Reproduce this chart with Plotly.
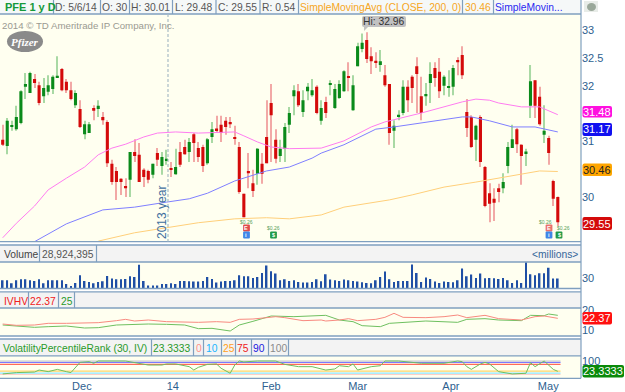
import plotly.graph_objects as go

W, H = 625, 392

opens = [31.03,30.92,31.26,31.22,31.33,31.98,31.87,32.12,32.01,31.81,31.89,31.94,32.15,32.30,32.07,31.92,31.65,31.58,31.13,31.15,
31.60,31.58,31.44,31.35,30.60,30.47,30.33,30.20,30.31,30.81,30.76,30.49,30.47,30.40,30.79,30.56,30.66,30.52,30.41,30.81,
30.90,30.81,31.13,30.88,30.90,30.61,31.08,31.23,31.30,31.37,31.35,31.07,30.90,30.06,30.47,30.25,30.42,30.60,31.08,31.69,
31.03,30.74,30.87,31.30,31.81,31.90,31.53,31.90,31.83,31.98,31.37,31.71,32.02,31.60,31.78,31.90,32.16,31.56,32.35,32.66,
32.82,32.53,32.44,32.37,32.19,32.03,31.19,31.45,31.51,31.98,32.16,32.35,31.81,31.81,32.05,32.32,32.25,32.00,31.96,31.98,
32.46,32.55,31.53,31.44,31.03,31.44,30.54,30.07,29.97,30.16,30.16,30.56,30.88,31.22,30.94,30.79,31.64,32.10,31.80,31.12,
31.06,30.29,30.00]
highs = [31.30,31.42,31.37,31.64,31.92,32.23,32.25,32.21,32.07,32.14,32.19,32.19,32.53,32.32,32.12,32.07,31.92,31.74,31.37,31.35,
31.65,31.74,31.53,31.38,30.67,30.54,30.34,30.34,30.81,31.04,30.97,30.52,30.49,30.60,30.88,30.81,30.85,30.63,30.87,30.99,
31.03,31.06,31.15,30.99,30.94,31.06,31.35,31.46,31.46,31.44,31.44,31.28,30.99,30.06,30.79,30.49,30.88,30.79,31.74,32.03,
31.22,31.03,31.33,31.62,32.01,32.03,31.92,32.05,32.12,32.01,31.74,31.80,32.10,32.03,32.10,32.28,32.42,32.19,32.77,32.94,
32.96,32.69,32.60,32.64,32.37,32.03,31.38,31.56,32.10,32.10,32.19,32.51,32.16,32.05,32.42,32.42,32.50,32.19,32.28,32.37,
32.51,32.71,31.76,31.47,31.30,31.47,30.56,30.25,30.16,30.24,30.43,30.99,31.30,31.24,30.95,30.87,32.37,32.10,31.98,31.65,
31.10,30.31,30.01]
lows = [30.92,30.77,31.19,31.19,31.31,31.76,31.87,31.96,31.65,31.69,31.83,31.85,32.14,31.90,31.87,31.74,31.60,31.24,31.04,31.15,
31.38,31.44,31.30,30.54,30.22,29.95,30.04,30.00,30.00,30.63,30.27,30.18,30.25,30.34,30.56,30.40,30.58,30.36,30.40,30.54,
30.76,30.63,30.63,30.63,30.45,30.58,30.97,31.15,30.99,31.12,31.24,30.94,30.06,29.64,30.16,30.00,30.22,30.24,30.61,30.63,
30.61,30.63,30.63,31.15,31.47,31.62,31.44,31.74,31.80,31.49,31.30,31.42,31.83,31.58,31.76,31.89,31.90,31.55,32.35,32.60,
32.41,32.21,32.32,32.25,31.98,30.94,30.88,31.38,31.47,31.53,31.69,31.51,31.38,31.64,31.69,31.98,31.78,31.83,31.80,31.83,
32.19,32.12,31.08,30.88,30.65,30.54,29.82,29.55,29.57,29.91,30.07,30.43,30.88,30.79,30.22,30.56,31.42,31.42,31.28,30.97,
30.58,29.84,29.48]
closes = [30.94,31.37,31.28,31.44,31.90,32.03,32.23,32.05,31.69,31.96,32.01,32.16,32.17,31.92,31.92,31.76,31.87,31.26,31.31,31.31,
31.55,31.64,31.38,30.61,30.27,30.27,30.27,30.16,30.81,30.74,30.27,30.36,30.31,30.60,30.67,30.72,30.68,30.49,30.54,30.58,
30.77,30.99,30.97,30.72,30.56,31.04,31.22,31.20,31.15,31.26,31.31,31.05,30.09,29.64,30.43,30.11,30.87,30.42,30.61,31.47,
30.69,30.87,31.26,31.51,31.92,31.65,31.74,31.98,31.92,31.51,31.60,31.51,32.04,31.94,32.03,32.26,32.14,32.01,32.71,32.77,
32.48,32.44,32.42,32.44,32.01,31.15,31.28,31.47,31.98,31.74,31.96,32.21,31.51,31.85,32.21,32.14,31.90,32.16,31.98,32.32,
32.42,32.19,31.24,30.90,31.28,30.63,29.84,29.88,29.90,30.09,30.27,30.90,31.04,30.95,30.74,30.81,32.08,31.64,31.31,31.19,
30.79,29.97,29.55]
volumes = [24,24,15,24,27,27,24,22,27,15,24,24,24,24,13,7,16,39,22,19,
15,19,21,37,29,27,27,28,36,34,70,22,8,8,8,13,13,15,13,22,
22,21,20,20,22,34,28,17,20,22,22,24,39,36,36,31,34,46,68,51,
44,24,27,22,24,19,17,17,19,27,21,42,26,24,22,26,24,22,20,18,
16,15,24,34,50,27,19,22,22,22,71,46,19,32,28,20,16,20,19,18,
24,59,36,41,31,44,30,31,30,28,31,24,16,24,16,78,42,39,45,45,
61,28.92,28.92]
days = list(range(len(opens)))

sma50_days = [0,3,7,10,14,18,21,24,27,31,34,38,43,51,53,56,59,63,70,75,81,84,92,97,101,104,107,109,114,118,122]
sma50_vals = [29.27,29.53,29.84,30.13,30.34,30.54,30.76,30.88,30.95,31.08,31.15,31.17,31.15,31.17,31.10,30.99,30.90,30.87,30.88,31.01,31.26,31.35,31.51,31.62,31.71,31.76,31.74,31.69,31.62,31.62,31.48]
sma100_days = [7,14,22,29,36,41,45,51,58,63,68,70,75,82,86,90,97,101,103,107,112,117,122]
sma100_vals = [29.20,29.52,29.77,29.82,29.91,29.97,30.07,30.29,30.47,30.54,30.70,30.79,30.94,31.22,31.26,31.31,31.40,31.44,31.44,31.37,31.26,31.26,31.17]
sma200_days = [21,29,36,43,51,58,63,68,70,75,85,90,97,104,112,118,122]
sma200_vals = [29.21,29.36,29.45,29.54,29.61,29.63,29.61,29.66,29.68,29.82,29.95,30.04,30.18,30.27,30.38,30.47,30.46]

iv_days = [0,3,7,10,14,18,21,25,27,29,32,36,40,43,47,50,52,55,58,60,62,66,70,71,74,76,78,82,84,86,88,93,97,100,102,106,109,114,117,119,122]
iv_vals = [13.0,12.33,12.5,13.33,13.33,13.33,13.67,14.67,15.33,14.5,15,14.17,14,13.83,14.17,13.83,15.33,15.5,16.17,16.67,16.17,14.67,15,14.5,15,15.67,14.67,15.33,16.33,18.33,16.33,16.17,16.67,17.5,16.17,17.33,15.67,15,16.67,17,15.83]
hv_days = [0,3,7,10,14,18,21,25,29,32,36,40,43,46,50,52,55,59,64,70,71,74,77,79,83,85,90,93,100,102,106,109,114,116,119,120,122]
hv_vals = [12.5,12,11.33,11.67,12,11,11.17,12.5,13,13,12.83,12.5,10.67,10.83,9.5,12.5,14.33,17,16.67,17.33,17.33,15,14.17,12.17,11.67,13.33,13.83,14.5,13.83,15.33,15.67,15,14.67,17.33,17.17,18,17.33]

vpr_days = [0,3,7,8,10,12,14,15,17,19,20,21,27,30,32,35,36,38,41,42,43,45,47,48,50,51,52,53,56,60,62,65,68,71,73,74,76,77,78,81,83,84,87,92,97,100,101,102,103,105,106,107,109,112,115,116,117,119,121,122]
vpr_vals = [4,14,18,33,21,38,21,14,90,95,83,100,100,83,70,70,78,78,58,33,53,75,78,46,9,70,100,93,100,100,75,58,58,33,41,65,58,78,33,58,65,100,100,83,83,100,95,58,38,78,90,78,21,4,9,88,58,100,38,23.3333]
vpr_levels = [0, 10, 25, 75, 90, 100]
vpr_level_colors = ["#ffd0c8", "#8fe8ff", "#ffd76a", "#ff6a5a", "#7a7aff", "#c8c8c8"]

x_tick_vals = [17.4, 37.4, 59, 78, 98.5, 119.9]
x_tick_text = ["Dec", "14", "Feb", "Mar", "Apr", "May"]
price_ticks = [30, 30.5, 31, 31.5, 32, 32.5, 33]
price_tick_text = ["30", "", "31", "", "32", "32.5", "33"]

FONT = "Liberation Sans"
BLUE = "#2e5f90"
BORDER = "#7f9fbf"
CREAM = "#fffff0"
STRIP = "#f3f3f3"
RIGHT = 581

def fx(x):
    return x / W

def fy(y):
    return 1 - y / H

is_up = [c >= o for o, c in zip(opens, closes)]
wick_colors = ["#a9d9a4" if u else "#f2a9a6" for u in is_up]
body_colors = ["#0a8a1a" if u else "#d40a0a" for u in is_up]

fig = go.Figure()
fig.add_trace(go.Bar(x=days, y=[h - l for h, l in zip(highs, lows)], base=lows, width=0.24,
                     marker=dict(color=wick_colors, line=dict(width=0)), xaxis="x", yaxis="y"))
fig.add_trace(go.Bar(x=days, y=[max(abs(c - o), 0.03) for o, c in zip(opens, closes)],
                     base=[min(o, c) for o, c in zip(opens, closes)], width=0.68,
                     marker=dict(color=body_colors, line=dict(width=0)), xaxis="x", yaxis="y"))
for xs, ys, col in [(sma200_days, sma200_vals, "#ffcf7a"), (sma100_days, sma100_vals, "#7f7fff"), (sma50_days, sma50_vals, "#ff7cf0")]:
    fig.add_trace(go.Scatter(x=xs, y=ys, mode="lines", line=dict(color=col, width=1), xaxis="x", yaxis="y"))

fig.add_trace(go.Bar(x=days, y=volumes, width=0.36, marker=dict(color="#1f4fa5", line=dict(width=0)), xaxis="x", yaxis="y2"))

fig.add_trace(go.Scatter(x=hv_days, y=hv_vals, mode="lines", line=dict(color="#6fc060", width=1), xaxis="x", yaxis="y3"))
fig.add_trace(go.Scatter(x=iv_days, y=iv_vals, mode="lines", line=dict(color="#f88a80", width=1), xaxis="x", yaxis="y3"))

for lv, col in zip(vpr_levels, vpr_level_colors):
    fig.add_trace(go.Scatter(x=[-1, 122.6], y=[lv, lv], mode="lines", line=dict(color=col, width=1.2), xaxis="x", yaxis="y4"))
fig.add_trace(go.Scatter(x=vpr_days, y=vpr_vals, mode="lines", line=dict(color="#6fbf60", width=1), xaxis="x", yaxis="y4"))

shapes = []

def rect(x0, y0, x1, y1, fill, layer="below"):
    shapes.append(dict(type="rect", xref="paper", yref="paper", x0=fx(x0), x1=fx(x1), y0=fy(y1), y1=fy(y0),
                       fillcolor=fill, line=dict(width=0), layer=layer))

def hline(y, x0=0, x1=RIGHT, color=BORDER, width=1.3):
    shapes.append(dict(type="line", xref="paper", yref="paper", x0=fx(x0), x1=fx(x1), y0=fy(y), y1=fy(y),
                       line=dict(color=color, width=width), layer="above"))

def vline(x, y0, y1, color=BORDER, width=1.2, dash="solid"):
    shapes.append(dict(type="line", xref="paper", yref="paper", x0=fx(x), x1=fx(x), y0=fy(y0), y1=fy(y1),
                       line=dict(color=color, width=width, dash=dash), layer="above"))

def rrect(x0, y0, x1, y1, fill, r=2):
    X = lambda v: f"{fx(v):.5f}"
    Y = lambda v: f"{fy(v):.5f}"
    p = (f"M {X(x0+r)} {Y(y0)} L {X(x1-r)} {Y(y0)} Q {X(x1)} {Y(y0)} {X(x1)} {Y(y0+r)} "
         f"L {X(x1)} {Y(y1-r)} Q {X(x1)} {Y(y1)} {X(x1-r)} {Y(y1)} L {X(x0+r)} {Y(y1)} "
         f"Q {X(x0)} {Y(y1)} {X(x0)} {Y(y1-r)} L {X(x0)} {Y(y0+r)} Q {X(x0)} {Y(y0)} {X(x0+r)} {Y(y0)} Z")
    shapes.append(dict(type="path", xref="paper", yref="paper", path=p, fillcolor=fill, line=dict(width=0), layer="above"))

annotations = []

def text(x, y, s, color="#555555", size=10.3, anchor="left", bold=False, angle=0, family=FONT, italic=False):
    annotations.append(dict(xref="paper", yref="paper", x=fx(x), y=fy(y), text=(f"<b>{s}</b>" if bold else s),
                            showarrow=False, xanchor=anchor, yanchor="middle", textangle=angle,
                            font=dict(family=family, size=size, color=color, style="italic" if italic else "normal"),
                            borderpad=0, borderwidth=0))

# backgrounds
rect(0, 0, RIGHT, 14, "#f5f8f8")
rect(0, 14, RIGHT, 241.5, CREAM)
rect(0, 245, RIGHT, 262, STRIP)
rect(0, 262, RIGHT, 288.5, CREAM)
rect(0, 292, RIGHT, 308, STRIP)
rect(0, 308, RIGHT, 336, CREAM)
rect(0, 339, RIGHT, 356, STRIP)
rect(0, 356, RIGHT, 378, CREAM)

for y in [14, 241.7, 245, 262, 288.5, 291.8, 308, 336, 339, 355.8, 378.3]:
    hline(y)
vline(RIGHT, 0, 378.3)
for x in [53.5, 100.5, 129.5, 172.5, 216, 260, 298.5, 462.5, 493.5]:
    vline(x, 0, 14)
for x in [39.5, 96.5]:
    vline(x, 245, 262)
for x in [28.5, 58.5, 74.5]:
    vline(x, 292, 308)
for x in [151.5, 193.5, 203.5, 221.5, 235.5, 251.5, 268.5, 288.5]:
    vline(x, 339, 356)
vline(168, 14, 241.5, color="#a9bcc6", width=1.2, dash="3px,2px")

# header texts
text(5, 7.5, "PFE 1 y D", color="#14993a", size=11, bold=True)
text(55, 7.5, "D: 5/6/14")
text(102, 7.5, "O: 30")
text(131, 7.5, "H: 30.01")
text(175, 7.5, "L: 29.48")
text(218, 7.5, "C: 29.55")
text(262, 7.5, "R: 0.54")
text(300, 7.5, "SimpleMovingAvg (CLOSE, 200, 0)", color="#f5a623")
text(465, 7.5, "30.46", color="#f5a623")
text(495, 7.5, "SimpleMovin...", color="#2a2af0")

text(2, 25, "2014 © TD Ameritrade IP Company, Inc.", color="#9a9a90", size=9.7)
shapes.append(dict(type="circle", xref="paper", yref="paper", x0=fx(7), x1=fx(43), y0=fy(52), y1=fy(31),
                   fillcolor="#8a8a8a", line=dict(width=0), layer="above"))
text(25, 41.5, "Pfizer", color="#ffffff", size=11, anchor="center", bold=True, family="Liberation Serif", italic=True)

text(162, 213, "2013 year", color="#3f6f9f", size=12, anchor="center", angle=-90)

# high marker
rrect(362, 16, 406, 27, "#c2c2c2")
shapes.append(dict(type="path", xref="paper", yref="paper",
                   path=f"M {fx(364):.5f} {fy(27):.5f} L {fx(368):.5f} {fy(27):.5f} L {fx(364):.5f} {fy(31):.5f} Z",
                   fillcolor="#c2c2c2", line=dict(width=0), layer="above"))
text(384, 21.5, "Hi: 32.96", color="#333333", size=10.3, anchor="center")

# event markers
def marker(cx, cy, color, s):
    rrect(cx - 3.4, cy - 3.4, cx + 3.4, cy + 3.4, color, r=1)
    text(cx, cy, s, color="#ffffff", size=5.5, anchor="center", bold=True)

marker(246.5, 228, "#e04a4a", "E")
marker(246.5, 235, "#3f86e8", "i")
marker(273.5, 235, "#1f9a4a", "$")
marker(549, 228, "#e9706c", "E")
marker(549, 235, "#3f86e8", "i")
marker(559, 235, "#1f9a4a", "$")
text(246.5, 222, "$0.26", color="#5aa05a", size=5, anchor="center")
text(273.5, 228, "$0.26", color="#5aa05a", size=5, anchor="center")
text(545, 222, "$0.26", color="#5aa05a", size=5, anchor="center")
text(563, 228, "$0.26", color="#5aa05a", size=5, anchor="center")

# panel headers
text(4, 254, "Volume", color="#444444")
text(42, 254, "28,924,395", color="#555555")
text(578, 254.5, "&lt;millions&gt;", color="#33669a", anchor="right")
text(4, 301, "IVHV", color="#f02020")
text(30, 301, "22.37", color="#f02020")
text(61, 301, "25", color="#2a9a2a")
text(3, 348.5, "VolatilityPercentileRank (30, IV)", color="#2a9a2a")
text(153, 348.5, "23.3333", color="#2a9a2a")
text(196, 348.5, "0", color="#ff9088")
text(206, 348.5, "10", color="#19b5ff")
text(223, 348.5, "25", color="#ffa020")
text(237, 348.5, "75", color="#ee2020")
text(253, 348.5, "90", color="#2020e0")
text(270, 348.5, "100", color="#8a8a8a")

# right price flags
for y0, y1, fill, col, s in [(106, 117.5, "#ff10e0", "#ffffff", "31.48"),
                             (123, 136, "#1010f0", "#ffffff", "31.17"),
                             (163.5, 176, "#ffa500", "#222222", "30.46"),
                             (217, 230, "#d40a0a", "#ffffff", "29.55"),
                             (312, 324.5, "#ff1010", "#ffffff", "22.37")]:
    rrect(582.5, y0, 612, y1, fill)
    text(597.2, (y0 + y1) / 2, s, color=col, size=11, anchor="center")
rrect(582.5, 365, 624, 377.5, "#0a8a0a")
text(603.2, 371.2, "23.3333", color="#ffffff", size=11, anchor="center")

# icon top-right
rect(584, 1, 598, 12, "#e8ece8", layer="above")
shapes.append(dict(type="circle", xref="paper", yref="paper", x0=fx(587), x1=fx(596), y0=fy(11), y1=fy(3),
                   fillcolor="#9aa89a", line=dict(width=0), layer="above"))

def yax(y_top, y_bottom, rng, tickvals, ticktext=None):
    return dict(domain=[fy(y_bottom), fy(y_top)], range=rng, anchor="x", side="right", automargin=False,
                showgrid=False, zeroline=False, showline=False, ticks="", tickmode="array",
                tickvals=tickvals, ticktext=ticktext if ticktext else [str(v) for v in tickvals],
                tickfont=dict(family=FONT, size=11, color=BLUE))

fig.update_layout(
    width=W, height=H, margin=dict(l=0, r=0, t=0, b=0, pad=0, autoexpand=False), autosize=False,
    paper_bgcolor="#ffffff", plot_bgcolor="rgba(0,0,0,0)", showlegend=False, barmode="overlay",
    hovermode=False, shapes=shapes, annotations=annotations,
    font=dict(family=FONT),
    xaxis=dict(domain=[0, RIGHT / W], range=[-0.593, 127.1], anchor="y4", automargin=False, showgrid=False, zeroline=False,
               showline=False, ticks="", tickmode="array", tickvals=x_tick_vals, ticktext=x_tick_text,
               tickfont=dict(family=FONT, size=11, color=BLUE)),
    yaxis=yax(14, 241.5, [29.203, 33.288], price_ticks, price_tick_text),
    yaxis2=yax(262, 288.3, [0, 78.5], [30]),
    yaxis3=yax(308, 336, [7, 21], [10, 20]),
    yaxis4=yax(356, 378, [-26, 137], [100]),
)

fig.write_html("out.html", config=dict(displayModeBar=False),
               post_script="document.body.style.margin='0';document.body.style.background='#ffffff';")
